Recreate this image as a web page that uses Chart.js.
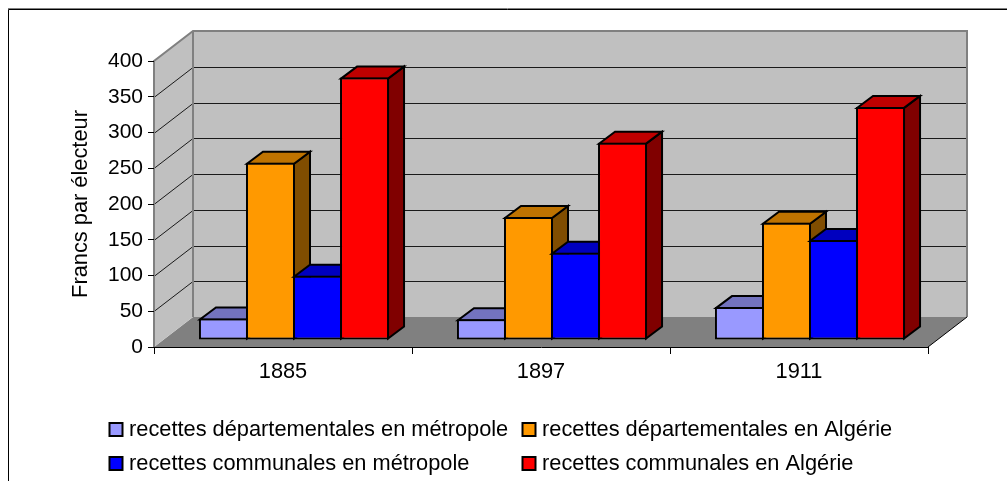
<!DOCTYPE html>
<html><head><meta charset="utf-8">
<style>html,body{margin:0;padding:0;background:#fff}#wrap{width:1007px;height:481px}</style>
<script src="https://cdn.jsdelivr.net/npm/chart.js@4"></script>
</head><body><div id="wrap"><canvas id="c" width="1007" height="481"></canvas></div>
<script>
const categories = ["1885", "1897", "1911"];
const yTickMax = 400;
const yTickStep = 50;
const yAxisTitle = "Francs par électeur";
const seriesNames = ["recettes départementales en métropole","recettes départementales en Algérie","recettes communales en métropole","recettes communales en Algérie"];
const depMetropole = [30, 29, 46];
const depAlgerie = [248, 172, 164];
const comMetropole = [90, 122, 140];
const comAlgerie = [367, 276, 326];
const seriesValues = [depMetropole, depAlgerie, comMetropole, comAlgerie];
const frontColors = ["#9999FF","#FF9900","#0000FF","#FF0000"];
const topColors = ["#7373BF","#BF7300","#0000BF","#BF0000"];
const sideColors = ["#4D4D80","#804D00","#000080","#800000"];
const FONT = "'Liberation Sans', Arial, sans-serif";
const wallDepth = {x:39, y:-30};
const barShift = {x:11, y:-7};
const barDepth = {x:16, y:-12};

function poly(ctx, pts, fill, stroke, lw){
  ctx.beginPath();
  pts.forEach((p,i)=> i ? ctx.lineTo(p[0],p[1]) : ctx.moveTo(p[0],p[1]));
  ctx.closePath();
  if(fill){ctx.fillStyle=fill;ctx.fill();}
  if(stroke){ctx.strokeStyle=stroke;ctx.lineWidth=lw;ctx.lineJoin='miter';ctx.stroke();}
}
const scene = {
  id:'scene',
  beforeDraw(chart){
    const {ctx,chartArea:a,scales:{y}} = chart;
    const dx=wallDepth.x, dy=wallDepth.y;
    ctx.save();
    ctx.strokeStyle='#808080';ctx.lineWidth=1;
    ctx.beginPath();ctx.moveTo(8,8.5);ctx.lineTo(1007,8.5);ctx.stroke();
    ctx.strokeStyle='#000';
    ctx.beginPath();ctx.moveTo(8.5,481);ctx.lineTo(8.5,9.5);ctx.lineTo(1007,9.5);ctx.stroke();
    poly(ctx,[[a.left,a.bottom],[a.left+dx,a.bottom+dy],[a.right+dx,a.bottom+dy],[a.right,a.bottom]],'#808080');
    poly(ctx,[[a.left,a.bottom],[a.left,a.top],[a.left+dx,a.top+dy],[a.left+dx,a.bottom+dy]],'#C0C0C0');
    ctx.fillStyle='#C0C0C0';ctx.fillRect(a.left+dx,a.top+dy,a.right-a.left,a.bottom-a.top);
    ctx.strokeStyle='#1a1a1a';ctx.lineWidth=1;
    y.ticks.forEach(t=>{
      if(t.value===0||t.value===yTickMax) return;
      const py=Math.round(y.getPixelForValue(t.value))+0.5;
      ctx.beginPath();ctx.moveTo(a.left,py);ctx.lineTo(a.left+dx,py+dy);ctx.lineTo(a.right+dx,py+dy);ctx.stroke();
    });
    ctx.strokeStyle='#808080';ctx.lineWidth=2;
    ctx.beginPath();
    ctx.moveTo(a.left,a.bottom);ctx.lineTo(a.left,a.top);ctx.lineTo(a.left+dx,a.top+dy);
    ctx.lineTo(a.right+dx,a.top+dy);ctx.lineTo(a.right+dx,a.bottom+dy);
    ctx.moveTo(a.left+dx,a.top+dy);ctx.lineTo(a.left+dx,a.bottom+dy);
    ctx.stroke();
    ctx.strokeStyle='#000';ctx.lineWidth=1;
    ctx.beginPath();ctx.moveTo(a.right,a.bottom);ctx.lineTo(a.right+dx,a.bottom+dy);ctx.stroke();
    ctx.restore();
  },
  beforeDatasetsDraw(chart){
    const {ctx}=chart;
    chart.getSortedVisibleDatasetMetas().forEach(meta=>{
      const i=meta.index;
      ctx.save();
      ctx.translate(barShift.x,barShift.y);
      meta.data.forEach(el=>{
        const p=el.getProps(['x','y','base','width'],true);
        const l=p.x-p.width/2+1, r=p.x+p.width/2-1, t=p.y+1, b=p.base-1;
        const ox=barDepth.x, oy=barDepth.y;
        poly(ctx,[[r,b],[r,t],[r+ox,t+oy],[r+ox,b+oy]],sideColors[i],'#000',2);
        poly(ctx,[[l,t],[r,t],[r+ox,t+oy],[l+ox,t+oy]],topColors[i],'#000',2);
        el.draw(ctx);
      });
      ctx.restore();
    });
    return false;
  },
  afterDraw(chart){
    const {ctx}=chart;
    const columns=[108,521], rows=[429.5,463.5];
    ctx.save();
    ctx.font='21.8px '+FONT;ctx.textBaseline='middle';ctx.textAlign='left';
    chart.data.datasets.forEach((ds,i)=>{
      const x=columns[i%2], y=rows[Math.floor(i/2)];
      ctx.fillStyle=frontColors[i];ctx.strokeStyle='#000';ctx.lineWidth=2;
      ctx.fillRect(x+1.5,y-6.5,13,13);ctx.strokeRect(x+1.5,y-6.5,13,13);
      ctx.fillStyle='#000';
      ctx.fillText(ds.label,x+21,y+0.5);
    });
    ctx.restore();
  }
};
new Chart(document.getElementById('c'),{
  type:'bar',
  data:{labels:categories,datasets:seriesValues.map((v,i)=>({
    label:seriesNames[i],data:v,backgroundColor:frontColors[i],borderColor:'#000',borderWidth:2,
    borderSkipped:false,clip:false,
    categoryPercentage:0.729,barPercentage:49/47
  }))},
  plugins:[scene],
  options:{
    responsive:false,animation:false,
    layout:{padding:{left:68,top:61,right:79,bottom:94}},
    plugins:{legend:{display:false},title:{display:false},tooltip:{enabled:false}},
    scales:{
      x:{
        grid:{drawOnChartArea:false,drawTicks:true,tickLength:7,color:'#000',lineWidth:1,offset:true},
        border:{color:'#000',width:1},
        ticks:{color:'#000',font:{family:FONT,size:21.8},padding:5,maxRotation:0},
        afterFit(s){s.height=40;}
      },
      y:{
        min:0,max:yTickMax,
        grid:{drawOnChartArea:false,tickLength:6,color:'#000',lineWidth:1},
        border:{display:false},
        ticks:{stepSize:yTickStep,color:'#000',font:{family:FONT,size:21},padding:5},
        title:{display:true,text:yAxisTitle,color:'#000',font:{family:FONT,size:21.8},padding:{top:0,bottom:0}},
        afterFit(s){s.width=86;}
      }
    }
  }
});
</script></body></html>
